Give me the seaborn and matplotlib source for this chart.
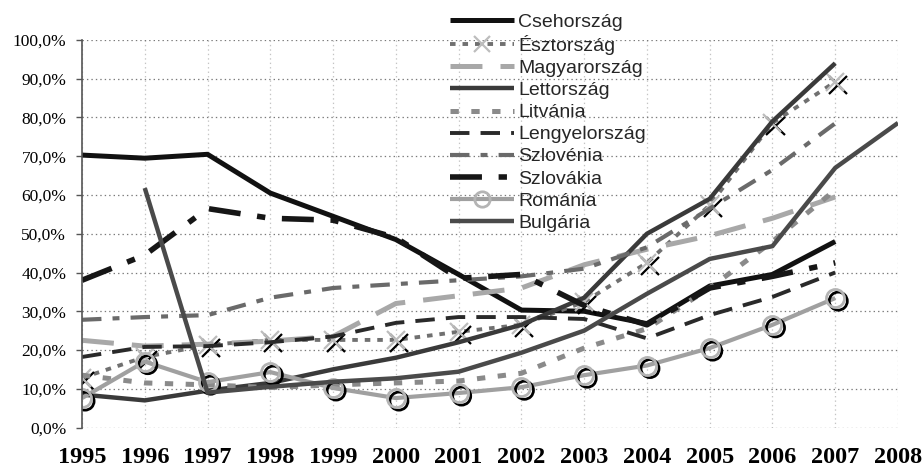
import numpy as np
import pandas as pd
import matplotlib
matplotlib.use("Agg")
import matplotlib.pyplot as plt
import matplotlib.patheffects as pe
from matplotlib.lines import Line2D
from matplotlib.ticker import FixedLocator, FuncFormatter
import seaborn as sns

nan = np.nan
years = [1995, 1996, 1997, 1998, 1999, 2000, 2001, 2002, 2003, 2004, 2005, 2006, 2007, 2008]
year_labels = [str(y) for y in years]
ytick_values = [0, 10, 20, 30, 40, 50, 60, 70, 80, 90, 100]

cseh     = [70.3, 69.5, 70.5, 60.5, 54.5, 48.5, 39.5, 30.3, 30.0, 26.8, 36.5, 39.5, 48.0, nan]
esztor   = [12.8, 18.2, 21.3, 22.6, 22.6, 22.6, 24.7, 26.5, 32.4, 42.5, 57.4, 78.6, 89.2, nan]
magyar   = [22.5, 21.0, 21.5, 22.3, 23.5, 32.0, 34.0, 36.0, 42.0, 46.0, 49.5, 54.0, 59.5, nan]
letto    = [8.5, 7.0, 9.5, 11.5, 15.0, 18.0, 22.0, 26.5, 33.5, 50.0, 59.0, 79.0, 94.0, nan]
litvania = [13.5, 11.5, 11.0, 10.3, 11.0, 11.5, 12.0, 14.0, 20.5, 25.5, 36.0, 48.0, 61.3, nan]
lengyel  = [18.2, 20.8, 21.0, 22.0, 23.5, 27.0, 28.5, 28.5, 28.0, 23.0, 29.0, 33.7, 40.0, nan]
szloven  = [27.8, 28.5, 29.0, 33.5, 36.0, 37.0, 38.0, 39.0, 41.0, 46.5, 56.5, 66.5, 78.5, nan]
szlovak  = [38.0, 44.5, 56.5, 54.0, 53.5, 49.0, 38.5, 39.5, 31.5, 26.5, 36.0, 39.0, 42.5, nan]
romania  = [7.6, 17.0, 11.7, 14.3, 10.2, 7.6, 8.9, 10.4, 13.5, 16.0, 20.5, 26.5, 33.4, nan]
bulgaria = [nan, 61.8, 9.0, 10.5, 11.8, 12.7, 14.4, 19.3, 25.0, 34.5, 43.5, 46.8, 67.0, 78.6]

names = ["Csehország", "Észtország", "Magyarország", "Lettország", "Litvánia",
         "Lengyelország", "Szlovénia", "Szlovákia", "Románia", "Bulgária"]
values = [cseh, esztor, magyar, letto, litvania, lengyel, szloven, szlovak, romania, bulgaria]

styles = {
    "Csehország":    dict(color="#111111", lw=3.6, ls="-"),
    "Észtország":    dict(color="#707070", lw=2.8, ls=(0, (4, 5)),
                          marker="x", ms=13, mew=1.6, mec="#bdbdbd"),
    "Magyarország":  dict(color="#a8a8a8", lw=3.6, ls=(0, (23, 13))),
    "Lettország":    dict(color="#3a3a3a", lw=3.2, ls="-"),
    "Litvánia":      dict(color="#8a8a8a", lw=3.6, ls=(0, (6, 9))),
    "Lengyelország": dict(color="#2a2a2a", lw=2.8, ls=(0, (14, 8))),
    "Szlovénia":     dict(color="#6a6a6a", lw=3.0, ls=(0, (14, 8, 5, 8))),
    "Szlovákia":     dict(color="#161616", lw=4.0, ls=(0, (23, 12, 6, 12))),
    "Románia":       dict(color="#a0a0a0", lw=3.0, ls="-",
                          marker="o", ms=13, mew=2.0, mec="#b4b4b4", mfc="none"),
    "Bulgária":      dict(color="#4a4a4a", lw=3.2, ls="-"),
}

sns.set_theme(style="white")
plt.rcParams["font.family"] = ["Liberation Sans", "DejaVu Sans"]
plt.rcParams["lines.scale_dashes"] = False

fig = plt.figure(figsize=(9.24, 4.70), dpi=100)
ax = fig.add_axes([82 / 924, 1 - 427.5 / 470, (898 - 82) / 924, (427.5 - 40) / 470])

handles = []
for name, vals in zip(names, values):
    st = styles[name]
    df = pd.DataFrame({"year": years, "val": vals}).dropna()
    sns.lineplot(data=df, x="year", y="val", ax=ax, color=st["color"], lw=st["lw"],
                 linestyle=st["ls"], legend=False, solid_capstyle="butt",
                 dash_capstyle="butt")
    if "marker" in st:
        sns.lineplot(data=df, x="year", y="val", ax=ax, linestyle="none",
                     marker=st["marker"], markersize=st["ms"], markeredgewidth=st["mew"],
                     markeredgecolor="black", markerfacecolor="none", legend=False,
                     path_effects=[pe.SimpleLineShadow(offset=(2.2, -2.2),
                                                       shadow_color="black", alpha=1.0)])
        sns.lineplot(data=df, x="year", y="val", ax=ax, linestyle="none",
                     marker=st["marker"], markersize=st["ms"], markeredgewidth=st["mew"],
                     markeredgecolor=st["mec"], markerfacecolor="none", legend=False)
    h = Line2D([], [], color=st["color"], lw=st["lw"], linestyle=st["ls"],
               solid_capstyle="butt", dash_capstyle="butt",
               marker=st.get("marker", None), markersize=st.get("ms", 0) * 0.85,
               markeredgewidth=st.get("mew", 0), markeredgecolor=st.get("mec", None),
               markerfacecolor="none")
    handles.append(h)

ax.set_xlim(1995, 2008)
ax.set_ylim(0, 100)
ax.set_xlabel("")
ax.set_ylabel("")

ax.xaxis.set_major_locator(FixedLocator(years))
ax.set_xticklabels(year_labels, fontfamily="Liberation Serif", fontweight="bold",
                   fontsize=17.5)
ax.yaxis.set_major_locator(FixedLocator(ytick_values))
ax.yaxis.set_major_formatter(FuncFormatter(lambda v, p: f"{v:.1f}%".replace(".", ",")))
for lab in ax.get_yticklabels():
    lab.set_fontfamily("Liberation Serif")
    lab.set_fontsize(12.5)

ax.tick_params(axis="x", length=0, pad=14, colors="black")
ax.tick_params(axis="y", left=True, length=4.3, width=1.0, direction="out",
               pad=7, color="#555555", labelcolor="black", labelsize=12.5)

ax.yaxis.grid(True, color="#7a7a7a", linestyle=(0, (1, 2.2)), lw=0.9)
ax.xaxis.grid(True, color="#c4c4c4", linestyle=(0, (1, 2.2)), lw=0.9)
ax.set_axisbelow(True)

for s in ["top", "right", "bottom"]:
    ax.spines[s].set_visible(False)
ax.spines["left"].set_color("#555555")
ax.spines["left"].set_linewidth(1.2)

leg = fig.legend(handles, names, loc="upper left",
                 bbox_to_anchor=(450 / 924, 1 - 13 / 470),
                 frameon=False, fontsize=14, handlelength=3.3, handletextpad=0.2,
                 labelspacing=0.23, borderpad=0, borderaxespad=0)

fig.savefig("out.png", dpi=100)
